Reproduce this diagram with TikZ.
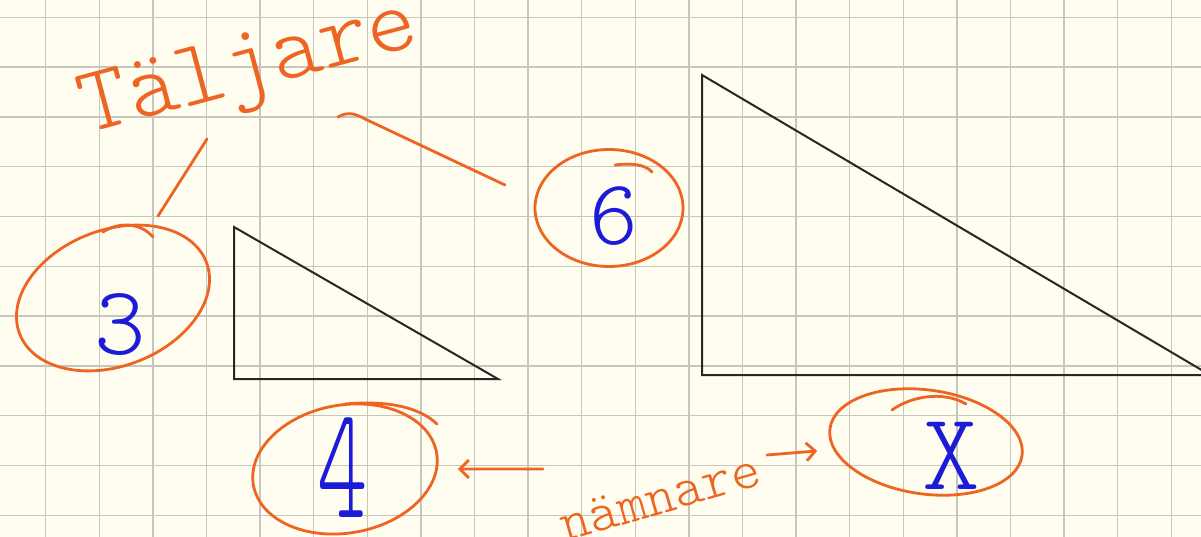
\documentclass[tikz,border=0pt]{standalone}
\usepackage{fontspec}
\usetikzlibrary{shapes.geometric,arrows.meta}
\definecolor{paper}{HTML}{FEFDF0}
\definecolor{gridc}{HTML}{C6C6BC}
\definecolor{pen}{HTML}{EE6422}
\definecolor{ink}{HTML}{1C1CD8}
\newcommand{\handfont}[1]{\fontfamily{lmtt}\fontseries{l}\fontsize{#1}{#1}\selectfont}
\begin{document}
\begin{tikzpicture}[x=1pt,y=-1pt,
  gridline/.style={gridc, line width=1.3pt},
  tri/.style={black!85, line width=2pt, line join=miter},
  ring/.style={ellipse, draw=pen, line width=2.8pt, inner sep=0pt},
  stroke/.style={pen, line width=2.8pt, line cap=round, line join=round},
  digit/.style={ink, inner sep=0pt},
  word/.style={pen, inner sep=0pt},
  arr/.style={stroke, -{Straight Barb[length=9pt,width=18pt]}}]
\useasboundingbox (0,0) rectangle (1201,537);
\clip (0,0) rectangle (1201,537);
\fill[paper] (0,0) rectangle (1201,537);
% grid
\foreach \i in {0,...,21} \draw[gridline] ({45.7+53.6*\i},0) -- ++(0,537);
\foreach \j in {0,...,10} \draw[gridline] (0,{17.3+49.8*\j}) -- ++(1201,0);
% triangles
\draw[tri] (234,227) -- (234,379) -- (498,379) -- cycle;
\draw[tri] (702,75) -- (702,375) -- (1210,375) -- cycle;
% rings
\node[ring, minimum width=200pt, minimum height=136pt, rotate=21] (e3) at (113,298) {};
\node[ring, minimum width=148pt, minimum height=117pt] (e6) at (609,208) {};
\node[ring, minimum width=186pt, minimum height=128pt, rotate=10] (e4) at (345,469) {};
\node[ring, minimum width=194pt, minimum height=104pt, rotate=-8] (eX) at (926,442) {};
% ring tails
\draw[stroke] (103,232) .. controls (118,222) and (140,222) .. (153,237);
\draw[stroke] (615,165) .. controls (630,163) and (645,164) .. (652,172);
\draw[stroke] (345,404) .. controls (390,400) and (420,408) .. (437,424);
\draw[stroke] (892,410) .. controls (910,397) and (942,390) .. (966,404);
% digits
\node[digit, font=\handfont{98}] (d3) at (120,325) {3};
\node[digit, font=\handfont{93}] (d6) at (614,216) {6};
\node[digit, font=\handfont{160}, xscale=0.6] (d4) at (343,468) {4};
\node[digit, font=\handfont{110}] (dX) at (951,456) {X};
% words
\node[word, font=\handfont{94}, rotate=15] (tal) at (250,72) {Täljare};
\node[word, font=\handfont{56}, rotate=16] (nam) at (660,497) {nämnare};
% connectors
\coordinate (t1a) at (207,139);
\coordinate (t1b) at (158,216);
\draw[stroke] (t1a) -- (t1b);
\coordinate (t2a) at (338,117);
\coordinate (t2b) at (505,185);
\draw[stroke] (t2a) .. controls (348,111) and (356,114) .. (365,119) -- (t2b);
\coordinate (al) at (543,469);
\draw[arr, shorten >=20pt] (al) -- (e4);
\coordinate (ar) at (767,455);
\draw[arr, shorten >=16pt] (ar) -- (eX);
\end{tikzpicture}
\end{document}
